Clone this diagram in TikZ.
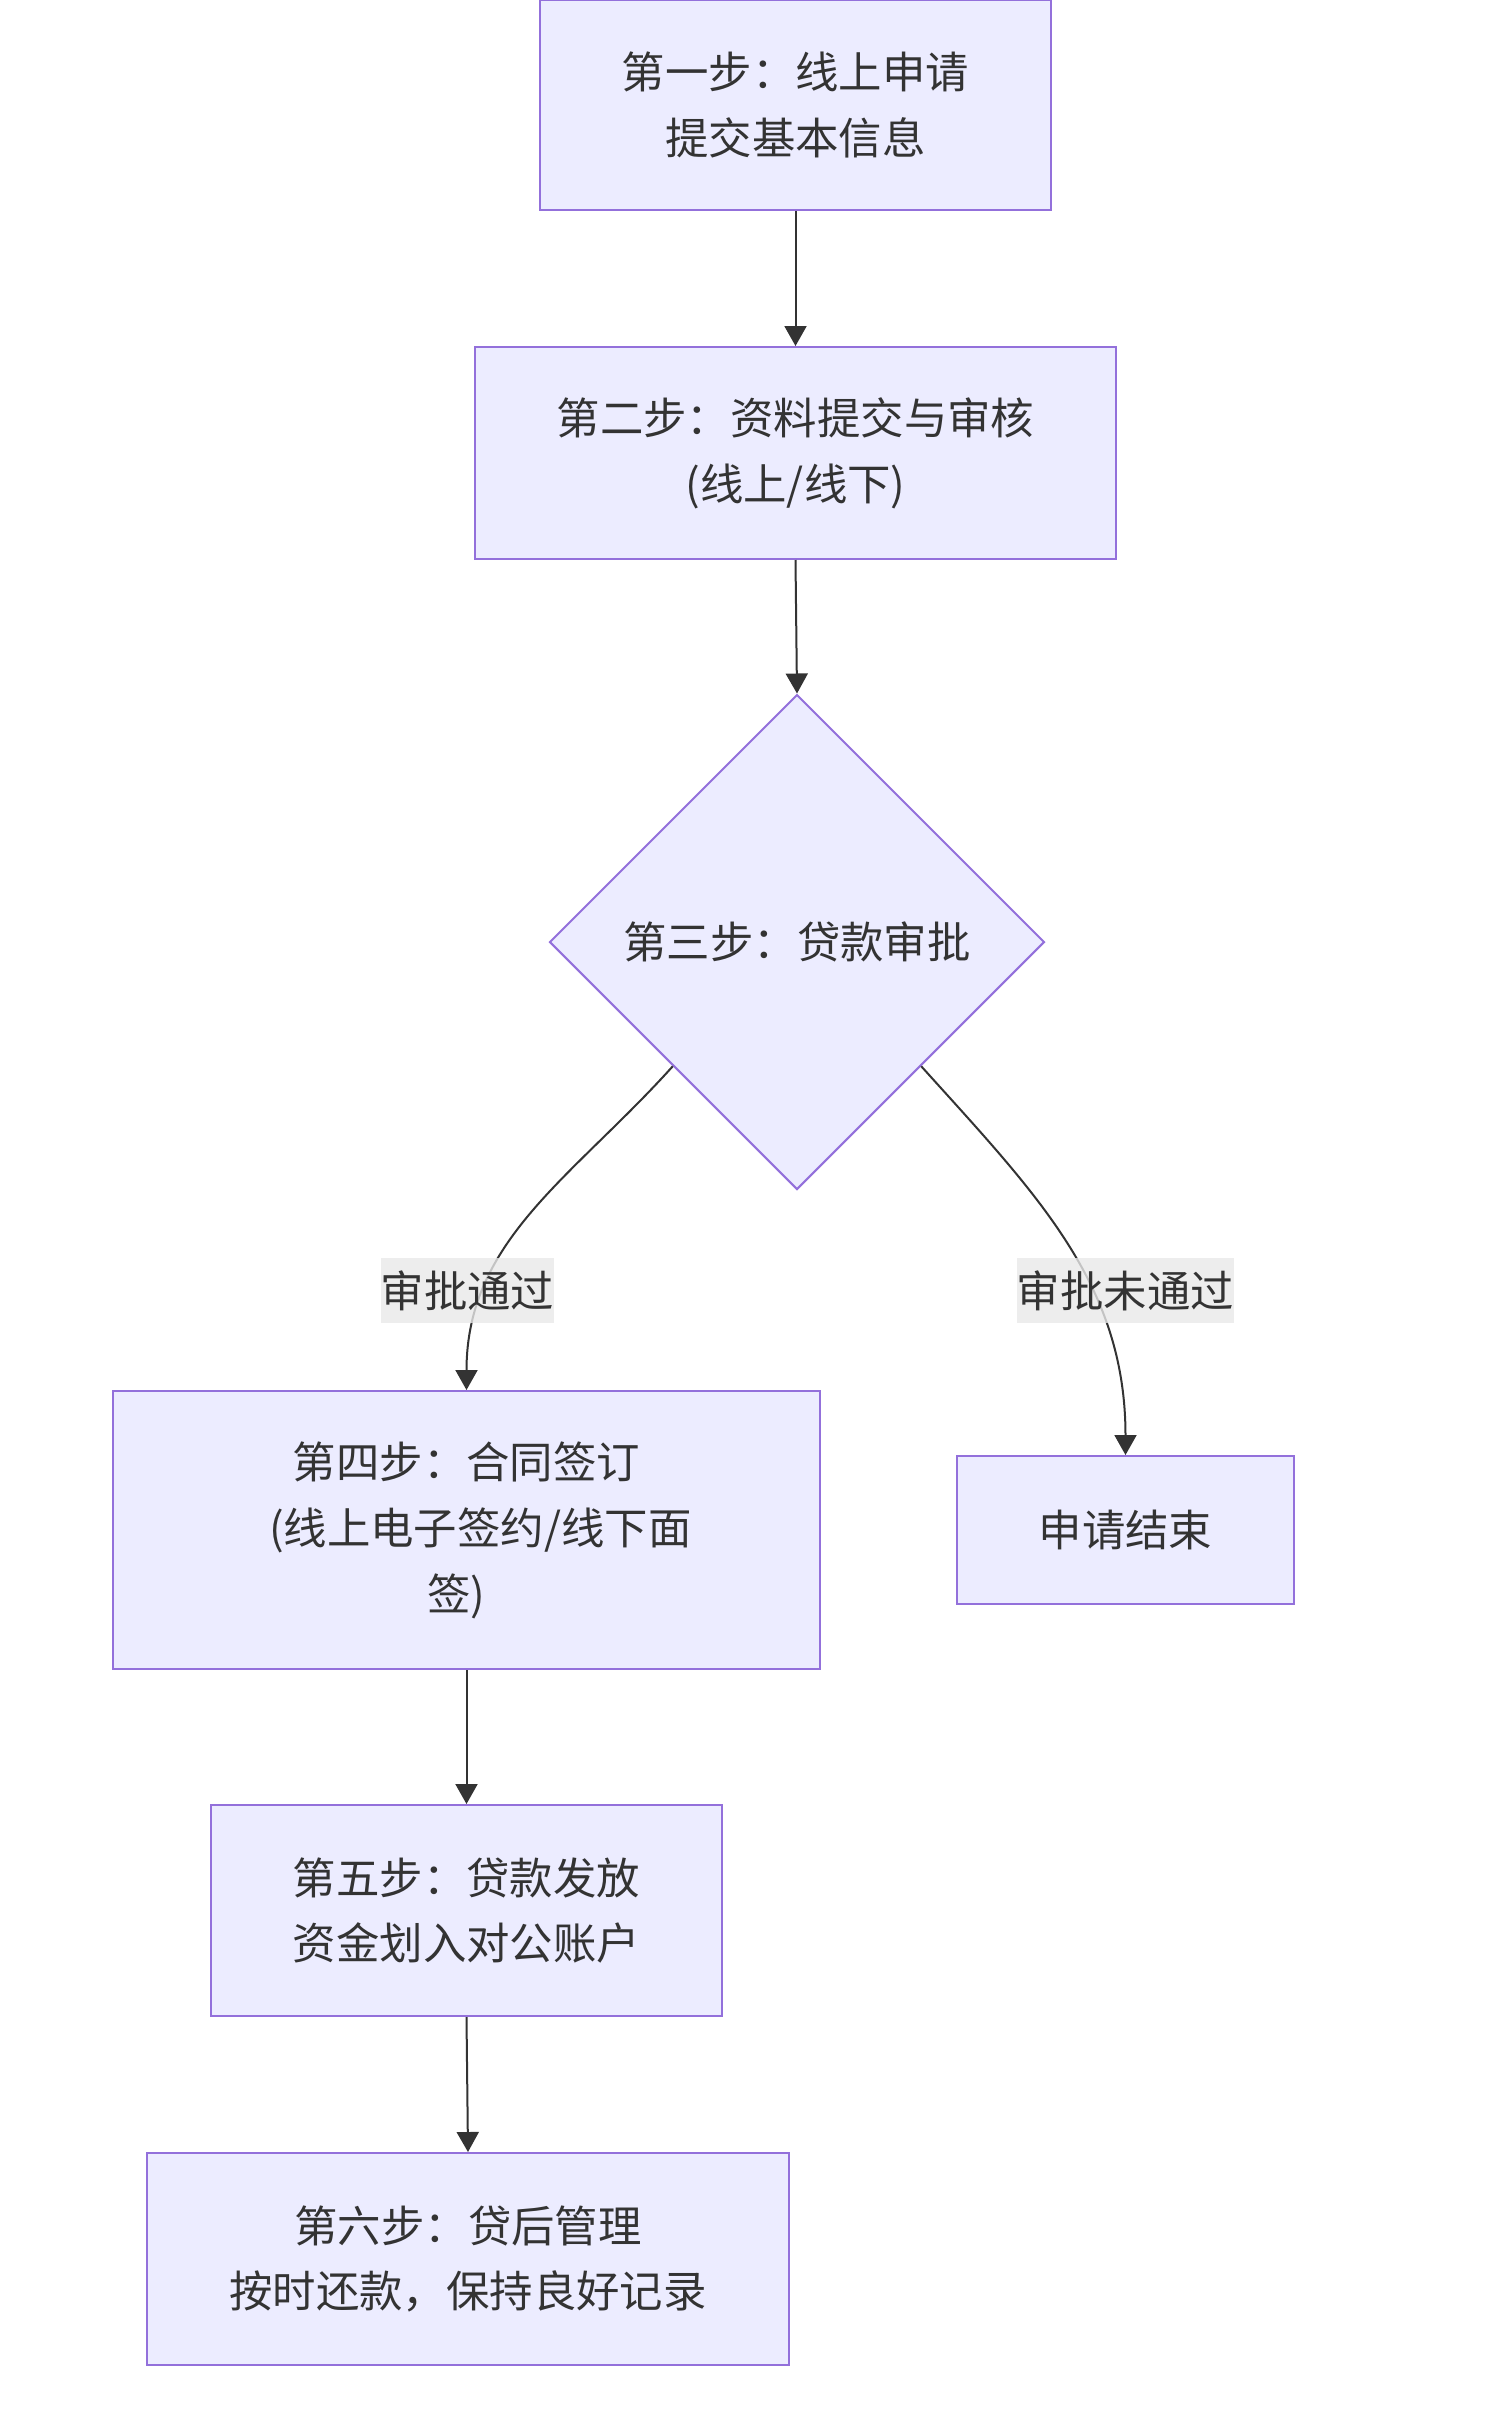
\documentclass[tikz,border=0pt]{standalone}
\usepackage{fontspec}
\setmainfont{Noto Sans CJK SC}
\usetikzlibrary{shapes.geometric,arrows.meta}
\definecolor{nodefill}{HTML}{ECECFF}
\definecolor{nodeline}{HTML}{9370DB}
\definecolor{textgray}{HTML}{333333}
\definecolor{labelbg}{HTML}{E8E8E8}
\begin{document}
\begin{tikzpicture}[
  stepbox/.style={rectangle, draw=nodeline, fill=nodefill, line width=0.04cm, align=center, inner sep=0pt},
  decision/.style={diamond, aspect=1, draw=nodeline, fill=nodefill, line width=0.04cm, minimum width=9.9cm, minimum height=9.9cm, inner sep=0pt},
  edgelabel/.style={fill=labelbg, fill opacity=0.8, text opacity=1, minimum height=1.3cm, inner xsep=0pt},
  flow/.style={draw=textgray, line width=0.04cm, -{Triangle[length=0.4cm,width=0.44cm]}},
  font=\fontsize{24.7}{37.5}\selectfont, text=textgray
]
  \useasboundingbox (0,0) rectangle (29.7,-48.4);
  \node[stepbox, minimum width=10.22cm, minimum height=4.2cm] (apply) at (15.91, -2.1) {第一步：线上申请\\提交基本信息};
  \node[stepbox, minimum width=12.82cm, minimum height=4.24cm] (review) at (15.91, -9.06) {第二步：资料提交与审核\\(线上/线下)};
  \node[decision] (approve) at (15.94, -18.84) {第三步：贷款审批};
  \node[stepbox, minimum width=14.14cm, minimum height=5.56cm] (contract) at (9.33, -30.6) {第四步：合同签订\\\hspace*{0.55cm}(线上电子签约/线下面\\签)\hspace*{0.4cm}};
  \node[stepbox, minimum width=6.74cm, minimum height=2.96cm] (finish) at (22.51, -30.6) {申请结束};
  \node[stepbox, minimum width=10.22cm, minimum height=4.22cm] (payout) at (9.33, -38.21) {第五步：贷款发放\\资金划入对公账户};
  \node[stepbox, minimum width=12.84cm, minimum height=4.24cm] (aftercare) at (9.36, -45.18) {第六步：贷后管理\\按时还款，保持良好记录};
  \draw[flow] (apply) -- (review);
  \draw[flow] (review.south) -- (approve.north);
  \draw[flow] (approve.south west) to[out=-132, in=90] (contract.north);
  \draw[flow] (approve.south east) to[out=-48, in=90] (finish.north);
  \draw[flow] (contract) -- (payout);
  \draw[flow] (payout.south) -- (aftercare.north);
  \node[edgelabel] (passlbl) at (9.35, -25.81) {审批通过};
  \node[edgelabel] (faillbl) at (22.51, -25.81) {审批未通过};
\end{tikzpicture}
\end{document}
